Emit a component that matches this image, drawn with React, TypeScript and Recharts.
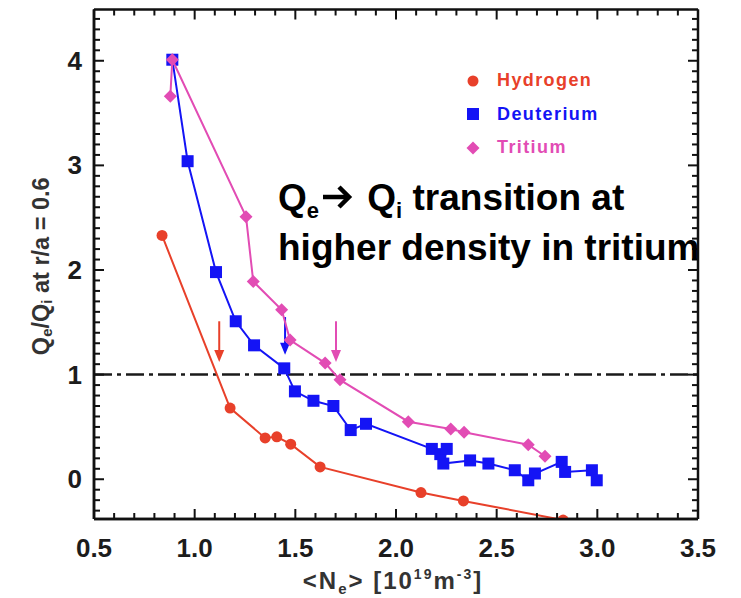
import { ScatterChart, Scatter, XAxis, YAxis, ReferenceLine } from "recharts";

const FONT = '"Liberation Sans", Arial, Helvetica, sans-serif';

// <N_e> in 10^19 m^-3 against Qe/Qi at r/a = 0.6
const hydrogenNe = [0.838, 1.176, 1.35, 1.408, 1.477, 1.623, 2.124, 2.335, 2.83];
const hydrogenQ = [2.33, 0.68, 0.395, 0.405, 0.335, 0.118, -0.127, -0.207, -0.39];

const deuteriumNe = [
  0.889, 0.965, 1.106, 1.204, 1.295, 1.445, 1.498, 1.59, 1.689, 1.775, 1.851, 2.178,
  2.22, 2.252, 2.235, 2.368, 2.459, 2.59, 2.657, 2.69, 2.823, 2.84, 2.973, 2.997,
];
const deuteriumQ = [
  4.01, 3.04, 1.98, 1.51, 1.28, 1.06, 0.84, 0.75, 0.7, 0.47, 0.53, 0.29,
  0.24, 0.29, 0.15, 0.18, 0.15, 0.086, -0.01, 0.055, 0.166, 0.07, 0.086, -0.01,
];

const tritiumNe = [0.879, 0.889, 1.255, 1.291, 1.432, 1.474, 1.648, 1.722, 2.061, 2.272, 2.338, 2.657, 2.74];
const tritiumQ = [3.66, 4.01, 2.51, 1.89, 1.62, 1.33, 1.11, 0.95, 0.55, 0.48, 0.45, 0.33, 0.22];

// transition markers: density, arrow tail, arrow tip
const arrowNe = [1.122, 1.449, 1.702];
const arrowFrom = [1.51, 1.55, 1.51];
const arrowTo = [1.12, 1.19, 1.12];

const xMajor = [0.5, 1.0, 1.5, 2.0, 2.5, 3.0, 3.5];
const yMajor = [0, 1, 2, 3, 4];
const xDomain: [number, number] = [0.5, 3.5];
const yDomain: [number, number] = [-0.38, 4.49];

const RED = "#e8402a";
const BLUE = "#1414f5";
const PINK = "#e24cb4";
const INK = "#111";

const steps = (from: number, to: number) =>
  Array.from({ length: Math.round((to - from) * 10) + 1 }, (_, i) => Math.round((from + i * 0.1) * 10) / 10);
const xMinor = steps(0.5, 3.5);
const yMinor = steps(-0.3, 4.4);

const isMajor = (list: number[], v: number) => list.some((t) => Math.abs(t - v) < 1e-6);

const toPoints = (xs: number[], ys: number[]) => xs.map((x, i) => ({ x, y: ys[i] }));

// chart box and margins; the plot rectangle follows from them
const W = 720;
const H = 590;
const MARGIN = { top: 1.5, right: 30, left: 26, bottom: 19 };
const Y_AXIS_W = 60;
const X_AXIS_H = 60;
const PLOT = {
  left: MARGIN.left + Y_AXIS_W,
  top: MARGIN.top,
  right: W - MARGIN.right,
  bottom: H - MARGIN.bottom - X_AXIS_H,
};

const labelStyle = { fontFamily: FONT, fontWeight: 700, fontSize: 26, fill: "#1c1c1c" };
const MINOR = 6;
const MAJOR = 10;

function BottomLabel(props: any) {
  const { x, y, payload } = props;
  return (
    <text x={x} y={y + 38} textAnchor="middle" {...labelStyle}>
      {payload.value.toFixed(1)}
    </text>
  );
}

function LeftLabel(props: any) {
  const { x, y, payload } = props;
  return (
    <text x={x - 12} y={y + 9} textAnchor="end" {...labelStyle}>
      {payload.value}
    </text>
  );
}

// closed frame with inward ticks on all four sides, same linear maps as the axes
function FrameTicks() {
  const sx = (v: number) =>
    PLOT.left + ((v - xDomain[0]) / (xDomain[1] - xDomain[0])) * (PLOT.right - PLOT.left);
  const sy = (v: number) =>
    PLOT.top + ((yDomain[1] - v) / (yDomain[1] - yDomain[0])) * (PLOT.bottom - PLOT.top);
  const { left, right, top, bottom } = PLOT;
  return (
    <svg
      width={W}
      height={H}
      style={{ position: "absolute", left: 0, top: 0, pointerEvents: "none", overflow: "visible" }}
    >
      <line x1={left} y1={top} x2={right} y2={top} stroke={INK} strokeWidth={2.5} />
      <line x1={right} y1={top} x2={right} y2={bottom} stroke={INK} strokeWidth={2.5} />
      <line x1={left} y1={top} x2={left} y2={bottom} stroke={INK} strokeWidth={2.5} />
      <line x1={left} y1={bottom} x2={right} y2={bottom} stroke={INK} strokeWidth={2.5} />
      {xMinor.map((v) => {
        const len = isMajor(xMajor, v) ? MAJOR : MINOR;
        const x = sx(v);
        return (
          <g key={`x${v}`}>
            <line x1={x} y1={bottom} x2={x} y2={bottom - len} stroke={INK} strokeWidth={2} />
            <line x1={x} y1={top} x2={x} y2={top + len} stroke={INK} strokeWidth={2} />
          </g>
        );
      })}
      {yMinor.map((v) => {
        const len = isMajor(yMajor, v) ? MAJOR : MINOR;
        const y = sy(v);
        return (
          <g key={`y${v}`}>
            <line x1={left} y1={y} x2={left + len} y2={y} stroke={INK} strokeWidth={2} />
            <line x1={right} y1={y} x2={right - len} y2={y} stroke={INK} strokeWidth={2} />
          </g>
        );
      })}
    </svg>
  );
}

function YTitle(props: any) {
  const vb = props.viewBox;
  const cx = vb.x + 7;
  const cy = vb.y + vb.height / 2 + 2;
  return (
    <text
      x={cx}
      y={cy}
      transform={`rotate(-90 ${cx} ${cy})`}
      textAnchor="middle"
      dominantBaseline="central"
      fontFamily={FONT}
      fontWeight={700}
      fontSize={23.5}
      fill="#333"
    >
      Q<tspan fontSize={15} dy={5}>e</tspan>
      <tspan dy={-5}>/Q</tspan>
      <tspan fontSize={15} dy={5}>i</tspan>
      <tspan dy={-5}> at r/a = 0.6</tspan>
    </text>
  );
}

function XTitle(props: any) {
  const vb = props.viewBox;
  const cx = vb.x + vb.width / 2 - 3;
  const cy = vb.y + 70;
  return (
    <text
      x={cx}
      y={cy}
      textAnchor="middle"
      fontFamily={FONT}
      fontWeight={700}
      fontSize={24}
      letterSpacing={2}
      fill="#333"
    >
      {"<N"}
      <tspan fontSize={15} dy={5}>e</tspan>
      <tspan dy={-5}>{"> [10"}</tspan>
      <tspan fontSize={14} dy={-10}>19</tspan>
      <tspan dy={10}>m</tspan>
      <tspan fontSize={14} dy={-10}>-3</tspan>
      <tspan dy={10}>]</tspan>
    </text>
  );
}

const Circle = (p: any) => <circle cx={p.cx} cy={p.cy} r={5.5} fill={RED} />;
const Square = (p: any) => <rect x={p.cx - 6} y={p.cy - 6} width={12} height={12} fill={BLUE} />;
const Diamond = (p: any) => (
  <polygon
    points={`${p.cx},${p.cy - 6.5} ${p.cx + 6.5},${p.cy} ${p.cx},${p.cy + 6.5} ${p.cx - 6.5},${p.cy}`}
    fill={PINK}
  />
);

function arrowShape(color: string) {
  return (p: any) => {
    const { x1, y1, x2, y2 } = p;
    const top = Math.min(y1, y2);
    const tip = Math.max(y1, y2);
    return (
      <g>
        <line x1={x1} y1={top} x2={x2} y2={tip - 10} stroke={color} strokeWidth={2} />
        <polygon points={`${x2 - 5},${tip - 12} ${x2 + 5},${tip - 12} ${x2},${tip}`} fill={color} />
      </g>
    );
  };
}

const series = [
  { name: "Hydrogen", color: RED, data: toPoints(hydrogenNe, hydrogenQ), shape: Circle },
  { name: "Deuterium", color: BLUE, data: toPoints(deuteriumNe, deuteriumQ), shape: Square },
  { name: "Tritium", color: PINK, data: toPoints(tritiumNe, tritiumQ), shape: Diamond },
];
const arrowColors = [RED, BLUE, PINK];

function LegendMarker({ index, color }: { index: number; color: string }) {
  return (
    <svg width={14} height={14} style={{ marginRight: 17 }}>
      {index === 0 && <circle cx={7} cy={7} r={5.5} fill={color} />}
      {index === 1 && <rect x={1} y={1} width={12} height={12} fill={color} />}
      {index === 2 && <polygon points="7,0.5 13.5,7 7,13.5 0.5,7" fill={color} />}
    </svg>
  );
}

const axisLine = { stroke: INK, strokeWidth: 2.5 };

export default function App() {
  return (
    <div style={{ position: "relative", width: W, height: H }}>
      <ScatterChart width={W} height={H} margin={MARGIN}>
        <XAxis
          dataKey="x"
          type="number"
          domain={xDomain}
          ticks={xMajor}
          interval={0}
          tickSize={0}
          tickMargin={0}
          tickLine={false}
          tick={<BottomLabel />}
          height={X_AXIS_H}
          axisLine={axisLine}
          label={<XTitle />}
        />
        <YAxis
          dataKey="y"
          type="number"
          domain={yDomain}
          allowDataOverflow
          ticks={yMajor}
          interval={0}
          tickSize={0}
          tickMargin={0}
          tickLine={false}
          tick={<LeftLabel />}
          width={Y_AXIS_W}
          axisLine={axisLine}
          label={<YTitle />}
        />
        <ReferenceLine y={1} stroke="#1a1a1a" strokeWidth={2.5} strokeDasharray="18 5 4 5" />
        {arrowNe.map((ne, i) => (
          <ReferenceLine
            key={i}
            segment={[
              { x: ne, y: arrowFrom[i] },
              { x: ne, y: arrowTo[i] },
            ]}
            shape={arrowShape(arrowColors[i])}
          />
        ))}
        {series.map((s) => (
          <Scatter
            key={s.name}
            name={s.name}
            data={s.data}
            line={{ stroke: s.color, strokeWidth: 2 }}
            shape={s.shape}
            isAnimationActive={false}
          />
        ))}
      </ScatterChart>

      <FrameTicks />

      <div
        style={{
          position: "absolute",
          left: 458,
          top: 56,
          fontFamily: FONT,
          fontWeight: 700,
          fontSize: 18,
          letterSpacing: 1.4,
        }}
      >
        {series.map((s, i) => (
          <div key={s.name} style={{ display: "flex", alignItems: "center", height: 33.5, color: s.color }}>
            <LegendMarker index={i} color={s.color} />
            {s.name}
          </div>
        ))}
      </div>

      <div
        style={{
          position: "absolute",
          left: 270,
          top: 167,
          fontFamily: FONT,
          fontWeight: 700,
          fontSize: 37,
          lineHeight: "45px",
          color: "#000",
          whiteSpace: "nowrap",
        }}
      >
        <div>
          Q<span style={{ fontSize: 22, position: "relative", top: 8 }}>e</span>
          <svg width={32} height={26} viewBox="0 0 32 26" style={{ margin: "0 4px 0 2px" }}>
            <line x1={2} y1={13} x2={27} y2={13} stroke="#000" strokeWidth={4.5} />
            <polyline points="18,3 28,13 18,23" fill="none" stroke="#000" strokeWidth={4.5} />
          </svg>{" "}
          Q<span style={{ fontSize: 22, position: "relative", top: 8 }}>i</span> transition at
        </div>
        <div>higher density in tritium</div>
      </div>
    </div>
  );
}
